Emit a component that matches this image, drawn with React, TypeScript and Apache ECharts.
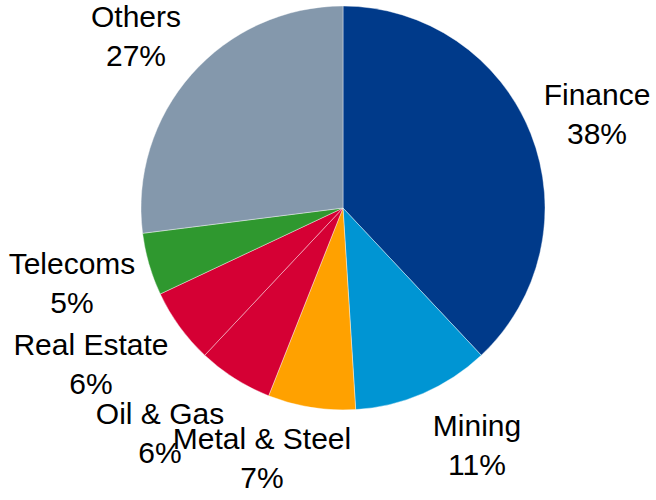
import React, { useEffect, useRef } from "react";
import * as echarts from "echarts";

const categories = ["Finance", "Mining", "Metal & Steel", "Oil & Gas", "Real Estate", "Telecoms", "Others"];
const shares = [38, 11, 7, 6, 6, 5, 27];
const colors = ["#003A8A", "#0095D3", "#FFA100", "#D50034", "#D50034", "#2F982F", "#8498AC"];
// label block centres (layout only)
const labelCentres: [number, number][] = [
  [597, 114],
  [477, 445],
  [262, 458],
  [160, 433],
  [91, 364],
  [72, 283],
  [136, 36],
];

export default function App() {
  const ref = useRef<HTMLDivElement>(null);
  useEffect(() => {
    if (!ref.current) return;
    const chart = echarts.init(ref.current, undefined, { renderer: "svg" });
    chart.setOption({
      animation: false,
      backgroundColor: "#ffffff",
      series: [
        {
          type: "pie",
          center: [343, 208],
          radius: 202,
          startAngle: 90,
          clockwise: true,
          avoidLabelOverlap: false,
          itemStyle: { borderColor: "#ffffff", borderWidth: 0.4 },
          label: {
            show: true,
            position: "outside",
            formatter: "{b}\n{c}%",
            fontFamily: "Liberation Sans, Arial, sans-serif",
            fontSize: 30,
            lineHeight: 39,
            color: "#000000",
            align: "center",
          },
          labelLine: { show: false },
          labelLayout: (params: any) => {
            const p = labelCentres[params.dataIndex];
            return { x: p[0], y: p[1], align: "center", verticalAlign: "middle" };
          },
          emphasis: { disabled: true },
          data: categories.map((name, i) => ({
            name,
            value: shares[i],
            itemStyle: { color: colors[i] },
          })),
        },
      ],
    });
    return () => chart.dispose();
  }, []);
  return (
    <div
      ref={ref}
      style={{ position: "absolute", left: 0, top: 0, width: 656, height: 500 }}
    />
  );
}
